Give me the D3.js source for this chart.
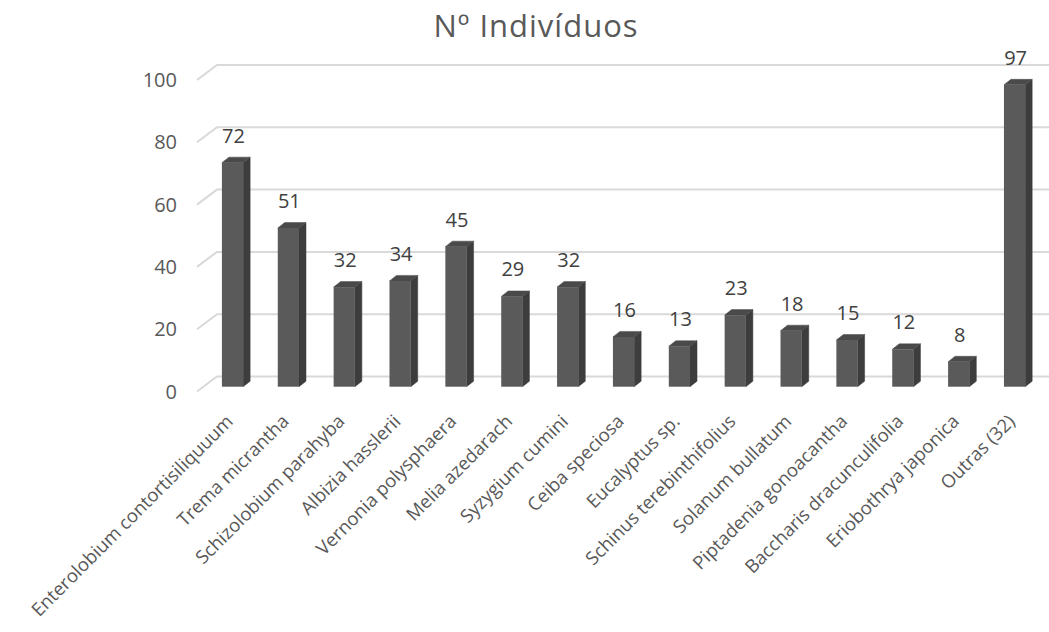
<!DOCTYPE html>
<html>
<head>
<meta charset="utf-8">
<script src="https://cdn.jsdelivr.net/npm/d3@7"></script>
<style>
  body { margin: 0; background: #fff; }
  text { font-family: "Open Sans", sans-serif; }
</style>
</head>
<body>
<div id="chart"></div>
<script>
const species = [
  "Enterolobium contortisiliquuum", "Trema micrantha", "Schizolobium parahyba",
  "Albizia hasslerii", "Vernonia polysphaera", "Melia azedarach", "Syzygium cumini",
  "Ceiba speciosa", "Eucalyptus sp.", "Schinus terebinthifolius", "Solanum bullatum",
  "Piptadenia gonoacantha", "Baccharis dracunculifolia", "Eriobothrya japonica", "Outras (32)"
]
const counts = [72, 51, 32, 34, 45, 29, 32, 16, 13, 23, 18, 15, 12, 8, 97]
const yTicks = [0, 20, 40, 60, 80, 100]

const width = 1049, height = 632

// 3d wall offsets
const wallDx = 20, wallDy = 15
const barDx = 7, barDy = 5.5

const svg = d3.select("#chart").append("svg")
  .attr("width", width).attr("height", height)

// back wall scale
const yBack = d3.scaleLinear().domain([0, 100]).range([376.5, 65])
// bar front face scale (bars sit a bit in front of the back wall)
const yBar = d3.scaleLinear().domain([0, 100]).range([386.7, 75.5])

const x = d3.scaleBand()
  .domain(species)
  .range([204.6, 1042.5])
  .paddingInner(0.62)
  .paddingOuter(0.31)

// gridlines
const grid = svg.append("g")
grid.selectAll("path").data(yTicks).enter().append("path")
  .attr("d", d => `M${217 - wallDx},${yBack(d) + wallDy}L217,${yBack(d)}L1049,${yBack(d)}`)
  .attr("fill", "none")
  .attr("stroke", "#d9d9d9")
  .attr("stroke-width", 2)

// y tick labels
svg.append("g").selectAll("text").data(yTicks).enter().append("text")
  .attr("x", 177)
  .attr("y", d => yBack(d) + wallDy)
  .attr("dy", "0.35em")
  .attr("text-anchor", "end")
  .attr("fill", "#595959")
  .style("font-size", "20px")
  .text(d => d)

// bars
const bars = svg.append("g").selectAll("g").data(counts).enter().append("g")

bars.append("path") // side
  .attr("d", (d, i) => {
    const x1 = x(species[i]) + x.bandwidth(), yt = yBar(d), yb = yBar(0)
    return `M${x1},${yt}L${x1 + barDx},${yt - barDy}L${x1 + barDx},${yb - barDy}L${x1},${yb}Z`
  })
  .attr("fill", "#3d3d3d")
  .attr("stroke", "#3d3d3d").attr("stroke-width", 0.5)

bars.append("path") // top
  .attr("d", (d, i) => {
    const x0 = x(species[i]), x1 = x0 + x.bandwidth(), yt = yBar(d)
    return `M${x0},${yt}L${x1},${yt}L${x1 + barDx},${yt - barDy}L${x0 + barDx},${yt - barDy}Z`
  })
  .attr("fill", "#4a4a4a")
  .attr("stroke", "#4a4a4a").attr("stroke-width", 0.5)

bars.append("rect") // front
  .attr("x", (d, i) => x(species[i]))
  .attr("y", d => yBar(d))
  .attr("width", x.bandwidth())
  .attr("height", d => yBar(0) - yBar(d))
  .attr("fill", "#5a5a5a")

// data labels
bars.append("text")
  .attr("x", (d, i) => x(species[i]) + x.bandwidth() / 2 + 1)
  .attr("y", d => yBar(d) - 27)
  .attr("dy", "0.35em")
  .attr("text-anchor", "middle")
  .attr("fill", "#404040")
  .style("font-size", "20px")
  .text(d => d)

// category labels
svg.append("g").selectAll("text").data(species).enter().append("text")
  .attr("transform", d => `translate(${x(d) + x.bandwidth() / 2 - 3},${418}) rotate(-45)`)
  .attr("text-anchor", "end")
  .attr("dy", "0.35em")
  .attr("fill", "#595959")
  .style("font-size", "18.5px")
  .text(d => d)

// title
svg.append("text")
  .attr("x", 536)
  .attr("y", 37)
  .attr("text-anchor", "middle")
  .attr("fill", "#595959")
  .style("font-size", "31px")
  .style("letter-spacing", "1px")
  .text("Nº Indivíduos")
</script>
</body>
</html>
